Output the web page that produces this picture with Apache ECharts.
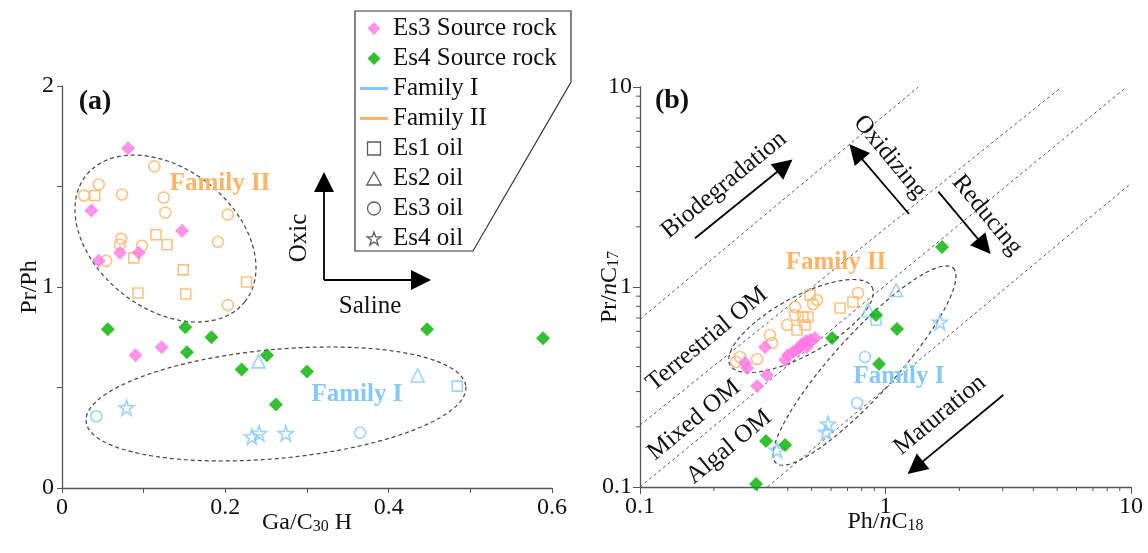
<!DOCTYPE html>
<html>
<head>
<meta charset="utf-8">
<title>Pr/Ph vs Ga/C30H and Pr/nC17 vs Ph/nC18</title>
<script src="https://cdn.jsdelivr.net/npm/echarts@6.0.0/dist/echarts.min.js"></script>
<style>
  html, body { margin: 0; padding: 0; background: #fff; }
  #chart { width: 1148px; height: 553px; }
</style>
</head>
<body>
<div id="chart"></div>
<script>
// panel (a): Ga/C30H vs Pr/Ph
const aEs3Rock = [[0.081, 1.69], [0.036, 1.38], [0.147, 1.28], [0.071, 1.17], [0.094, 1.17], [0.045, 1.13], [0.090, 0.66], [0.122, 0.70]];
const aEs4Rock = [[0.056, 0.79], [0.151, 0.80], [0.183, 0.75], [0.153, 0.675], [0.251, 0.66], [0.220, 0.59], [0.300, 0.58], [0.262, 0.415], [0.447, 0.79], [0.589, 0.745]];
const aFam2Es1 = [[0.040, 1.455], [0.115, 1.26], [0.1285, 1.21], [0.088, 1.145], [0.1485, 1.085], [0.226, 1.025], [0.093, 0.97], [0.1515, 0.965]];
const aFam2Es3 = [[0.113, 1.60], [0.045, 1.51], [0.027, 1.455], [0.0735, 1.46], [0.1245, 1.445], [0.1265, 1.37], [0.203, 1.36], [0.0725, 1.24], [0.071, 1.21], [0.098, 1.205], [0.054, 1.13], [0.191, 1.225], [0.203, 0.91]];
const aFam1Es1 = [[0.484, 0.507]];
const aFam1Es2 = [[0.2405, 0.63], [0.4355, 0.56]];
const aFam1Es3 = [[0.042, 0.357], [0.365, 0.275]];
const aFam1Es4 = [[0.079, 0.40], [0.2325, 0.255], [0.2415, 0.272], [0.274, 0.272]];

// panel (b): Ph/nC18 vs Pr/nC17
const bEs3Rock = [[0.268, 0.417], [0.273, 0.394], [0.323, 0.501], [0.329, 0.363], [0.300, 0.320], [0.390, 0.432], [0.401, 0.457], [0.420, 0.473], [0.436, 0.484], [0.457, 0.519], [0.475, 0.537], [0.493, 0.543], [0.516, 0.556], [0.479, 0.501], [0.448, 0.501]];
const bEs4Rock = [[1.70, 1.585], [0.606, 0.556], [0.915, 0.724], [1.114, 0.617], [0.941, 0.412], [0.326, 0.170], [0.390, 0.162], [0.297, 0.1035]];
const bFam2Es1 = [[0.493, 0.912], [0.653, 0.785], [0.737, 0.841], [0.4835, 0.708], [0.461, 0.708], [0.470, 0.646], [0.436, 0.6095]];
const bFam2Es3 = [[0.2555, 0.447], [0.246, 0.422], [0.300, 0.4365], [0.338, 0.575], [0.345, 0.525], [0.397, 0.646], [0.428, 0.794], [0.428, 0.724], [0.526, 0.861], [0.507, 0.822], [0.773, 0.933]];
const bFam1Es1 = [[0.915, 0.684]];
const bFam1Es2 = [[1.104, 0.966], [0.849, 0.767]];
const bFam1Es3 = [[0.825, 0.447], [0.766, 0.263]];
const bFam1Es4 = [[1.667, 0.668], [0.583, 0.2065], [0.5725, 0.188], [0.361, 0.153]];

// dashed family outlines: centre, end of long axis, end of short axis
const ellA2 = [[0.1267, 1.241], [0.224, 0.927], [0.0735, 0.969]];
const ellA1 = [[0.262, 0.418], [0.4946, 0.505], [0.268, 0.148]];
const ellB2 = [[0.4527, 0.638], [0.881, 1.0], [0.5157, 0.4764]];
const ellB1 = [[0.8215, 0.405], [1.884, 1.245], [1.019, 0.319]];

// dashed boundary lines in (b)
const bLines = [
  [[0.1, 0.69], [1.36, 10]],
  [[0.1, 0.204], [5.22, 10]],
  [[0.1, 0.1], [9.6, 10]],
  [[0.33, 0.1], [10, 3.3]]
];

// trend arrows [tail, head]
const arrowsA = [
  [[0.3208, 1.035], [0.3208, 1.522]],
  [[0.3208, 1.035], [0.4396, 1.035]]
];
const arrowsB = [
  [[0.1675, 1.752], [0.3886, 4.042]],
  [[1.247, 2.317], [0.7576, 4.742]],
  [[1.641, 2.996], [2.523, 1.596]],
  [[3.019, 0.2884], [1.323, 0.125]]
];

// minor ticks of the log axes in (b)
const logMinor = [0.2, 0.3, 0.4, 0.5, 0.6, 0.7, 0.8, 0.9, 2, 3, 4, 5, 6, 7, 8, 9];

const FONT = 'Liberation Serif';
const PINK = '#FF78E4';
const GREEN = '#00B000';
const ORANGE = '#FFB366';
const BLUE = '#85C8FF';
const INK = '#111';
const AXIS = '#555';
const starPath = 'path://M50 2 L61.2 36.6 L97.6 36.6 L68.2 58 L79.4 92.6 L50 71.2 L20.6 92.6 L31.8 58 L2.4 36.6 L38.8 36.6 Z';
const hollowStyle = { color: 'rgba(255,255,255,0)', borderColor: '#333', borderWidth: 1.3 };

const legendItems = [
  { name: 'Es3 Source rock', icon: 'path://M5 0 L10 5 L5 10 L0 5 Z', itemStyle: { color: PINK, borderWidth: 0 } },
  { name: 'Es4 Source rock', icon: 'path://M5 0 L10 5 L5 10 L0 5 Z', itemStyle: { color: GREEN, borderWidth: 0 } },
  { name: 'Family I', icon: 'path://M0 0 H28 V3 H0 Z', itemStyle: { color: BLUE, borderWidth: 0 } },
  { name: 'Family II', icon: 'path://M0 0 H28 V3 H0 Z', itemStyle: { color: ORANGE, borderWidth: 0 } },
  { name: 'Es1 oil', icon: 'path://M0 0 H10 V10 H0 Z', itemStyle: hollowStyle },
  { name: 'Es2 oil', icon: 'path://M5 0 L10 9 L0 9 Z', itemStyle: hollowStyle },
  { name: 'Es3 oil', icon: 'path://M10 5 A5 5 0 1 1 0 5 A5 5 0 1 1 10 5 Z', itemStyle: hollowStyle },
  { name: 'Es4 oil', icon: starPath, itemStyle: hollowStyle }
];

const chart = echarts.init(document.getElementById('chart'));

const rich = {
  t: { fontFamily: FONT, fontSize: 24, color: INK, lineHeight: 24, verticalAlign: 'top' },
  i: { fontFamily: FONT, fontSize: 24, color: INK, lineHeight: 24, verticalAlign: 'top', fontStyle: 'italic' },
  s: { fontFamily: FONT, fontSize: 16, color: INK, lineHeight: 16, verticalAlign: 'bottom', padding: [12, 0, 0, 0] }
};
const labelStyle = { color: INK, fontFamily: FONT, fontSize: 24 };

function colored(list, color) {
  return list.map(p => ({ value: p, itemStyle: { borderColor: color } }));
}

function hollow(name, xi, data, symbol, size) {
  return {
    name: name, type: 'scatter', xAxisIndex: xi, yAxisIndex: xi,
    symbol: symbol, symbolSize: size, data: data, z: 3,
    itemStyle: { color: 'rgba(255,255,255,0)', borderColor: '#333', borderWidth: 1.6 }
  };
}

function solid(name, xi, data, color) {
  return {
    name: name, type: 'scatter', xAxisIndex: xi, yAxisIndex: xi,
    symbol: 'diamond', symbolSize: 14, data: data, z: 4,
    itemStyle: { color: color }
  };
}

function outline(xi, e) {
  return {
    type: 'custom', xAxisIndex: xi, yAxisIndex: xi, silent: true, z: 2,
    data: [e[0]],
    renderItem: function (params, api) {
      const c = api.coord(e[0]);
      const p = api.coord(e[1]);
      const q = api.coord(e[2]);
      const pts = [];
      for (let k = 0; k <= 90; k++) {
        const t = k / 90 * Math.PI * 2;
        pts.push([
          c[0] + Math.cos(t) * (p[0] - c[0]) + Math.sin(t) * (q[0] - c[0]),
          c[1] + Math.cos(t) * (p[1] - c[1]) + Math.sin(t) * (q[1] - c[1])
        ]);
      }
      return {
        type: 'polygon', shape: { points: pts },
        style: { fill: 'none', stroke: '#444', lineWidth: 1.2, lineDash: [4, 3] }
      };
    }
  };
}

function arrows(xi, list) {
  return {
    type: 'lines', coordinateSystem: 'cartesian2d', xAxisIndex: xi, yAxisIndex: xi,
    silent: true, z: 5,
    symbol: ['none', 'triangle'], symbolSize: [11, 20],
    lineStyle: { color: '#000', width: 1.8, opacity: 1 },
    data: list.map(c => ({ coords: c }))
  };
}

function note(text, x, y, opts) {
  opts = opts || {};
  return {
    type: 'text', x: x, y: y, rotation: opts.r || 0, z: 10,
    style: {
      text: text, fill: opts.color || INK, align: 'center', verticalAlign: 'middle',
      font: (opts.bold ? 'bold ' : '') + (opts.size || 25) + 'px "' + FONT + '"'
    }
  };
}

const PAR = 0.69;
const PERP = -0.88;

const option = {
  animation: false,
  backgroundColor: '#fff',
  grid: [
    { left: 62, top: 86, width: 490, height: 402 },
    { left: 640, top: 87, width: 491, height: 400 }
  ],
  legend: {
    orient: 'vertical', left: 360, top: 16, padding: 0,
    itemWidth: 28, itemHeight: 13, itemGap: 5,
    symbolKeepAspect: true,
    selectedMode: false,
    textStyle: { fontFamily: FONT, fontSize: 25, color: INK },
    data: legendItems
  },
  xAxis: [
    {
      gridIndex: 0, type: 'value', min: 0, max: 0.6, interval: 0.1,
      axisLine: { lineStyle: { color: AXIS, width: 1.3 } },
      axisTick: { length: 5, lineStyle: { color: AXIS } },
      splitLine: { show: false },
      axisLabel: Object.assign({ margin: 8, formatter: v => (Math.round(v * 10) % 2 === 0 ? String(Math.round(v * 10) / 10) : '') }, labelStyle),
      name: '{t|Ga/C}{s|30}{t| H}', nameLocation: 'middle', nameGap: 23, nameMoveOverlap: false,
      nameTextStyle: { rich: rich }
    },
    {
      gridIndex: 1, type: 'log', logBase: 10, min: 0.1, max: 10,
      axisLine: { lineStyle: { color: AXIS, width: 1.3 } },
      axisTick: { length: 7, lineStyle: { color: AXIS } },
      splitLine: { show: false },
      axisLabel: Object.assign({ margin: 8 }, labelStyle),
      name: '{t|Ph/}{i|n}{t|C}{s|18}', nameLocation: 'middle', nameGap: 23, nameMoveOverlap: false,
      nameTextStyle: { rich: rich }
    }
  ],
  yAxis: [
    {
      gridIndex: 0, type: 'value', min: 0, max: 2, interval: 0.5,
      axisLine: { show: true, lineStyle: { color: AXIS, width: 1.3 } },
      axisTick: { show: true, length: 5, lineStyle: { color: AXIS } },
      splitLine: { show: false },
      axisLabel: Object.assign({ margin: 8, formatter: v => (v % 1 === 0 ? String(v) : '') }, labelStyle),
      name: 'Pr/Ph', nameLocation: 'middle', nameGap: 20, nameRotate: 90, nameMoveOverlap: false,
      nameTextStyle: { fontFamily: FONT, fontSize: 24, color: INK }
    },
    {
      gridIndex: 1, type: 'log', logBase: 10, min: 0.1, max: 10,
      axisLine: { show: true, lineStyle: { color: AXIS, width: 1.3 } },
      axisTick: { show: true, length: 7, lineStyle: { color: AXIS } },
      splitLine: { show: false },
      axisLabel: Object.assign({ margin: 8 }, labelStyle),
      name: '{t|Pr/}{i|n}{t|C}{s|17}', nameLocation: 'middle', nameGap: 18, nameRotate: 90, nameMoveOverlap: false,
      nameTextStyle: { rich: rich }
    }
  ],
  graphic: [
    {
      type: 'polygon', z: 0,
      shape: { points: [[355, 11], [571, 11], [571, 82], [473, 251], [355, 251]] },
      style: { fill: '#fff', stroke: '#333', lineWidth: 1.2 }
    },
    note('(a)', 95, 102, { bold: true, size: 28 }),
    note('(b)', 672, 101, { bold: true, size: 28 }),
    note('Family II', 220, 184, { bold: true, color: ORANGE }),
    note('Family I', 357, 395, { bold: true, color: BLUE }),
    note('Oxic', 299, 238, { r: Math.PI / 2 }),
    note('Saline', 370, 306),
    note('Family II', 836, 263, { bold: true, color: ORANGE }),
    note('Family I', 899, 377, { bold: true, color: BLUE }),
    note('Biodegradation', 724, 185, { r: PAR }),
    note('Oxidizing', 890, 157, { r: PERP }),
    note('Reducing', 987, 215, { r: PERP }),
    note('Maturation', 940, 415, { r: PAR }),
    note('Terrestrial OM', 707, 339, { r: PAR }),
    note('Mixed OM', 694, 420, { r: PAR }),
    note('Algal OM', 729, 447, { r: PAR })
  ],
  series: [
    // legend-only family entries
    { name: 'Family I', type: 'line', xAxisIndex: 0, yAxisIndex: 0, data: [], symbol: 'none', itemStyle: { color: BLUE }, lineStyle: { color: BLUE, width: 3 } },
    { name: 'Family II', type: 'line', xAxisIndex: 0, yAxisIndex: 0, data: [], symbol: 'none', itemStyle: { color: ORANGE }, lineStyle: { color: ORANGE, width: 3 } },

    // minor ticks on both log axes of (b)
    {
      type: 'custom', xAxisIndex: 1, yAxisIndex: 1, silent: true, clip: false, z: 1,
      data: logMinor.map(v => [v, v]),
      renderItem: function (params, api) {
        const v = api.value(0);
        const bx = api.coord([v, 0.1]);
        const ly = api.coord([0.1, v]);
        const st = { stroke: AXIS, lineWidth: 1 };
        return {
          type: 'group',
          children: [
            { type: 'line', shape: { x1: bx[0], y1: bx[1], x2: bx[0], y2: bx[1] + 4 }, style: st },
            { type: 'line', shape: { x1: ly[0], y1: ly[1], x2: ly[0] - 4, y2: ly[1] }, style: st }
          ]
        };
      }
    },

    outline(0, ellA2),
    outline(0, ellA1),
    outline(1, ellB2),
    outline(1, ellB1),

    ...bLines.map(l => ({
      type: 'line', xAxisIndex: 1, yAxisIndex: 1, data: l, symbol: 'none', silent: true, z: 2,
      lineStyle: { color: '#555', width: 1, type: [3, 3] }
    })),

    solid('Es3 Source rock', 0, aEs3Rock, PINK),
    solid('Es4 Source rock', 0, aEs4Rock, GREEN),
    hollow('Es1 oil', 0, colored(aFam2Es1, ORANGE).concat(colored(aFam1Es1, BLUE)), 'rect', 10),
    hollow('Es2 oil', 0, colored(aFam1Es2, BLUE), 'triangle', 13),
    hollow('Es3 oil', 0, colored(aFam2Es3, ORANGE).concat(colored(aFam1Es3, BLUE)), 'circle', 11),
    hollow('Es4 oil', 0, colored(aFam1Es4, BLUE), starPath, 15),

    solid('Es3 Source rock', 1, bEs3Rock, PINK),
    solid('Es4 Source rock', 1, bEs4Rock, GREEN),
    hollow('Es1 oil', 1, colored(bFam2Es1, ORANGE).concat(colored(bFam1Es1, BLUE)), 'rect', 10),
    hollow('Es2 oil', 1, colored(bFam1Es2, BLUE), 'triangle', 13),
    hollow('Es3 oil', 1, colored(bFam2Es3, ORANGE).concat(colored(bFam1Es3, BLUE)), 'circle', 11),
    hollow('Es4 oil', 1, colored(bFam1Es4, BLUE), starPath, 15),

    arrows(0, arrowsA),
    arrows(1, arrowsB)
  ]
};

chart.setOption(option);
</script>
</body>
</html>
